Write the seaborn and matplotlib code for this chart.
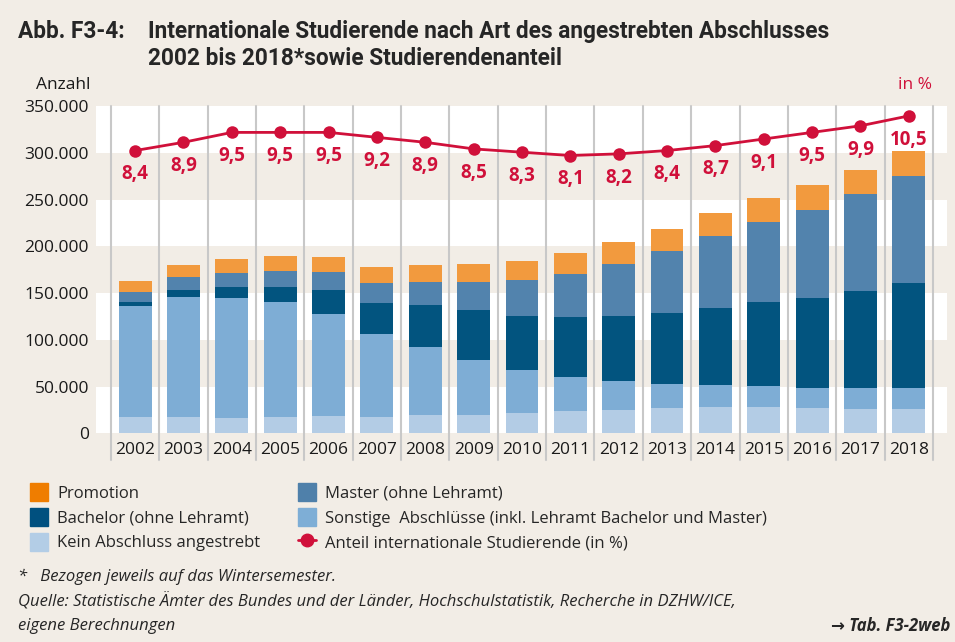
import numpy as np
import pandas as pd
import matplotlib.pyplot as plt
import seaborn as sns
from matplotlib.patches import Patch
from matplotlib.lines import Line2D

# Werte (Tsd.)
years = ["2002", "2003", "2004", "2005", "2006", "2007", "2008", "2009", "2010",
         "2011", "2012", "2013", "2014", "2015", "2016", "2017", "2018"]
kein = [17.5, 17.5, 16.4, 17.5, 18.5, 17.5, 19.6, 19.6, 21.7,
        23.9, 24.9, 27.1, 28.2, 28.2, 27.1, 26.0, 26.0]
sonstige = [118.6, 128.3, 128.3, 122.9, 109.1, 88.7, 72.7, 58.8, 46.0,
            36.3, 31.1, 25.6, 23.5, 22.4, 21.4, 22.5, 22.5]
bachelor = [4.3, 7.5, 11.8, 16.1, 25.7, 33.2, 44.9, 53.5, 57.8,
            64.2, 69.5, 76.0, 82.3, 89.8, 96.2, 103.7, 112.2]
master = [10.7, 13.9, 14.9, 17.1, 19.2, 21.3, 24.6, 29.9, 38.4,
          46.0, 55.6, 66.3, 77.0, 85.6, 94.1, 103.7, 114.4]
promotion = [11.8, 12.8, 15.0, 16.0, 16.0, 17.1, 18.2, 19.3, 20.4,
             22.4, 23.5, 23.5, 24.6, 25.6, 26.7, 25.7, 26.8]
anteil = [8.4, 8.9, 9.5, 9.5, 9.5, 9.2, 8.9, 8.5, 8.3,
          8.1, 8.2, 8.4, 8.7, 9.1, 9.5, 9.9, 10.5]
yticks = [0, 50000, 100000, 150000, 200000, 250000, 300000, 350000]

df = pd.DataFrame({"Jahr": years, "Kein": kein, "Sonstige": sonstige,
                   "Bachelor": bachelor, "Master": master, "Promotion": promotion})
parts = ["Kein", "Sonstige", "Bachelor", "Master", "Promotion"]
cum = df[parts].cumsum(axis=1) * 1000

bg = "#f2ede6"
red = "#d0103a"
bar_colors = {"Promotion": "#f29a3e", "Master": "#5283ad", "Bachelor": "#02547f",
              "Sonstige": "#7eadd5", "Kein": "#b3cce5"}

sns.set_style("white")
plt.rcParams["font.family"] = ["Open Sans", "DejaVu Sans"]
cond = ["Roboto", "DejaVu Sans"]

fig = plt.figure(figsize=(9.55, 6.42), dpi=100, facecolor=bg)
ax = fig.add_axes([0.1005, 0.3251, 0.8911, 0.5098])
ax.set_facecolor("white")

# Bänder im Hintergrund
for lo in [50000, 150000, 250000]:
    ax.axhspan(lo, lo + 50000, color=bg, zorder=0, lw=0)

# gestapelte Balken: kumulierte Summen von oben nach unten übereinander
for p in ["Promotion", "Master", "Bachelor", "Sonstige", "Kein"]:
    sns.barplot(x=df["Jahr"], y=cum[p], color=bar_colors[p], width=0.68,
                saturation=1, ax=ax, zorder=2, linewidth=0)

# Trennlinien zwischen den Jahren
for i in range(len(years) + 1):
    ax.axvline(i - 0.5, ymin=-0.083, ymax=1, color="#c8c8c8", lw=1.5,
               clip_on=False, zorder=1)

ax.set_xlim(-0.81, 16.79)
ax.set_ylim(0, 350000)
ax.set_yticks(yticks)
ax.set_yticklabels([f"{v:,}".replace(",", ".") for v in yticks], fontsize=12.5,
                   color="#1a1a1a")
ax.tick_params(axis="x", labelsize=12.5, pad=6, length=0, colors="#1a1a1a")
ax.tick_params(axis="y", length=0, pad=5)
ax.set_xlabel("")
ax.set_ylabel("")
sns.despine(ax=ax, left=True, bottom=True)

# Anteil-Linie auf zweiter Achse
ax2 = ax.twinx()
sns.lineplot(x=np.arange(len(years)), y=anteil, ax=ax2, color=red, lw=2,
             marker="o", markersize=9, markeredgewidth=0, zorder=5)
ax2.set_ylim(-8.73, 11.1)
ax2.axis("off")
for i, v in enumerate(anteil):
    ax2.annotate(f"{v:.1f}".replace(".", ","), (i, v), xytext=(0, -10),
                 textcoords="offset points", ha="center", va="top",
                 color=red, fontsize=13.5, fontweight="bold")

fig.text(0.0945, 0.868, "Anzahl", ha="right", va="center", fontsize=12.5,
         color="#1a1a1a")
fig.text(0.940, 0.868, "in %", ha="left", va="center", fontsize=12.5, color=red)

# Titel
fig.text(0.019, 0.951, "Abb. F3-4:", fontsize=16.3, fontweight="bold",
         family=cond, va="center")
fig.text(0.155, 0.951, "Internationale Studierende nach Art des angestrebten Abschlusses",
         fontsize=16.3, fontweight="bold", family=cond, va="center")
fig.text(0.155, 0.909, "2002 bis 2018*sowie Studierendenanteil",
         fontsize=16.3, fontweight="bold", family=cond, va="center")

# Legende in zwei Spalten
h1 = [Patch(color="#ef7d00", label="Promotion"),
      Patch(color="#00507f", label="Bachelor (ohne Lehramt)"),
      Patch(color="#b3cde6", label="Kein Abschluss angestrebt")]
h2 = [Patch(color="#4f80aa", label="Master (ohne Lehramt)"),
      Patch(color="#7eaed6", label="Sonstige  Abschlüsse (inkl. Lehramt Bachelor und Master)"),
      Line2D([], [], color=red, lw=2, marker="o", markersize=9,
             label="Anteil internationale Studierende (in %)")]
leg_kw = dict(loc="upper left", frameon=False, fontsize=12, handlelength=1.1,
              handleheight=1.25, handletextpad=0.55, labelspacing=0.38,
              borderpad=0, borderaxespad=0)
fig.legend(handles=h1, bbox_to_anchor=(0.031, 0.247), **leg_kw)
fig.legend(handles=h2, bbox_to_anchor=(0.312, 0.247), **leg_kw)

# Fußnoten
fig.text(0.019, 0.101, "*   Bezogen jeweils auf das Wintersemester.", fontsize=12,
         style="italic", va="center")
fig.text(0.019, 0.062, "Quelle: Statistische Ämter des Bundes und der Länder, "
         "Hochschulstatistik, Recherche in DZHW/ICE,", fontsize=12,
         style="italic", va="center")
fig.text(0.019, 0.025, "eigene Berechnungen", fontsize=12, style="italic", va="center")
fig.text(0.995, 0.025, "→ Tab. F3-2web", fontsize=12, style="italic",
         fontweight="bold", ha="right", va="center")

fig.savefig("out.png", dpi=100, facecolor=bg)
